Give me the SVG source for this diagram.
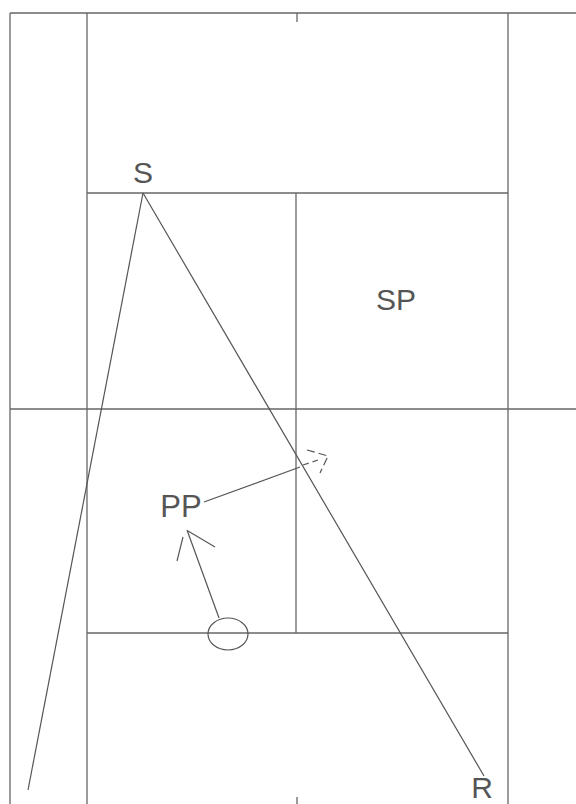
<svg xmlns="http://www.w3.org/2000/svg" width="576" height="804" viewBox="0 0 576 804">
<style>
.ln{stroke:#666;stroke-width:1.3;fill:none}
.cn{stroke:#555;stroke-width:1.2;fill:none}
.lbl{font-family:"Liberation Sans",Arial,sans-serif;font-size:30px;fill:#555;text-anchor:middle}
</style>
<rect width="576" height="804" fill="#fff"/>
<g id="grid">
<line class="ln" x1="10" y1="13" x2="576" y2="13"/>
<line class="ln" x1="297" y1="13" x2="297" y2="22"/>
<line class="ln" x1="10" y1="13" x2="10" y2="804"/>
<line class="ln" x1="87" y1="13" x2="87" y2="804"/>
<line class="ln" x1="508" y1="13" x2="508" y2="804"/>
<line class="ln" x1="87" y1="193" x2="508" y2="193"/>
<line class="ln" x1="10" y1="409" x2="576" y2="409"/>
<line class="ln" x1="87" y1="633" x2="508" y2="633"/>
<line class="ln" x1="296" y1="193" x2="296" y2="633"/>
<line class="ln" x1="297" y1="797" x2="297" y2="804"/>
</g>
<g id="S"><text class="lbl" x="143" y="183">S</text></g>
<g id="R"><text class="lbl" x="482" y="798">R</text></g>
<g id="SP"><text class="lbl" x="396" y="310">SP</text></g>
<g id="PP"><text class="lbl" x="181" y="517" style="font-size:31px">PP</text></g>
<g id="O"><ellipse class="cn" cx="228" cy="634" rx="20" ry="16"/></g>
<g id="connectors">
<line class="cn" x1="143" y1="193" x2="28" y2="790"/>
<line class="cn" x1="143" y1="193" x2="484" y2="776"/>
<line class="cn" x1="204" y1="502" x2="300" y2="467"/>
<line class="cn" x1="303" y1="465" x2="318" y2="460" stroke-dasharray="6 4"/>
<polyline class="cn" points="307,450 328,456 320,473" stroke-dasharray="8 4"/>
<line class="cn" x1="219" y1="618" x2="187" y2="530"/>
<line class="cn" x1="183" y1="537" x2="177" y2="561"/>
<line class="cn" x1="188" y1="531" x2="215" y2="547"/>
</g>
</svg>
